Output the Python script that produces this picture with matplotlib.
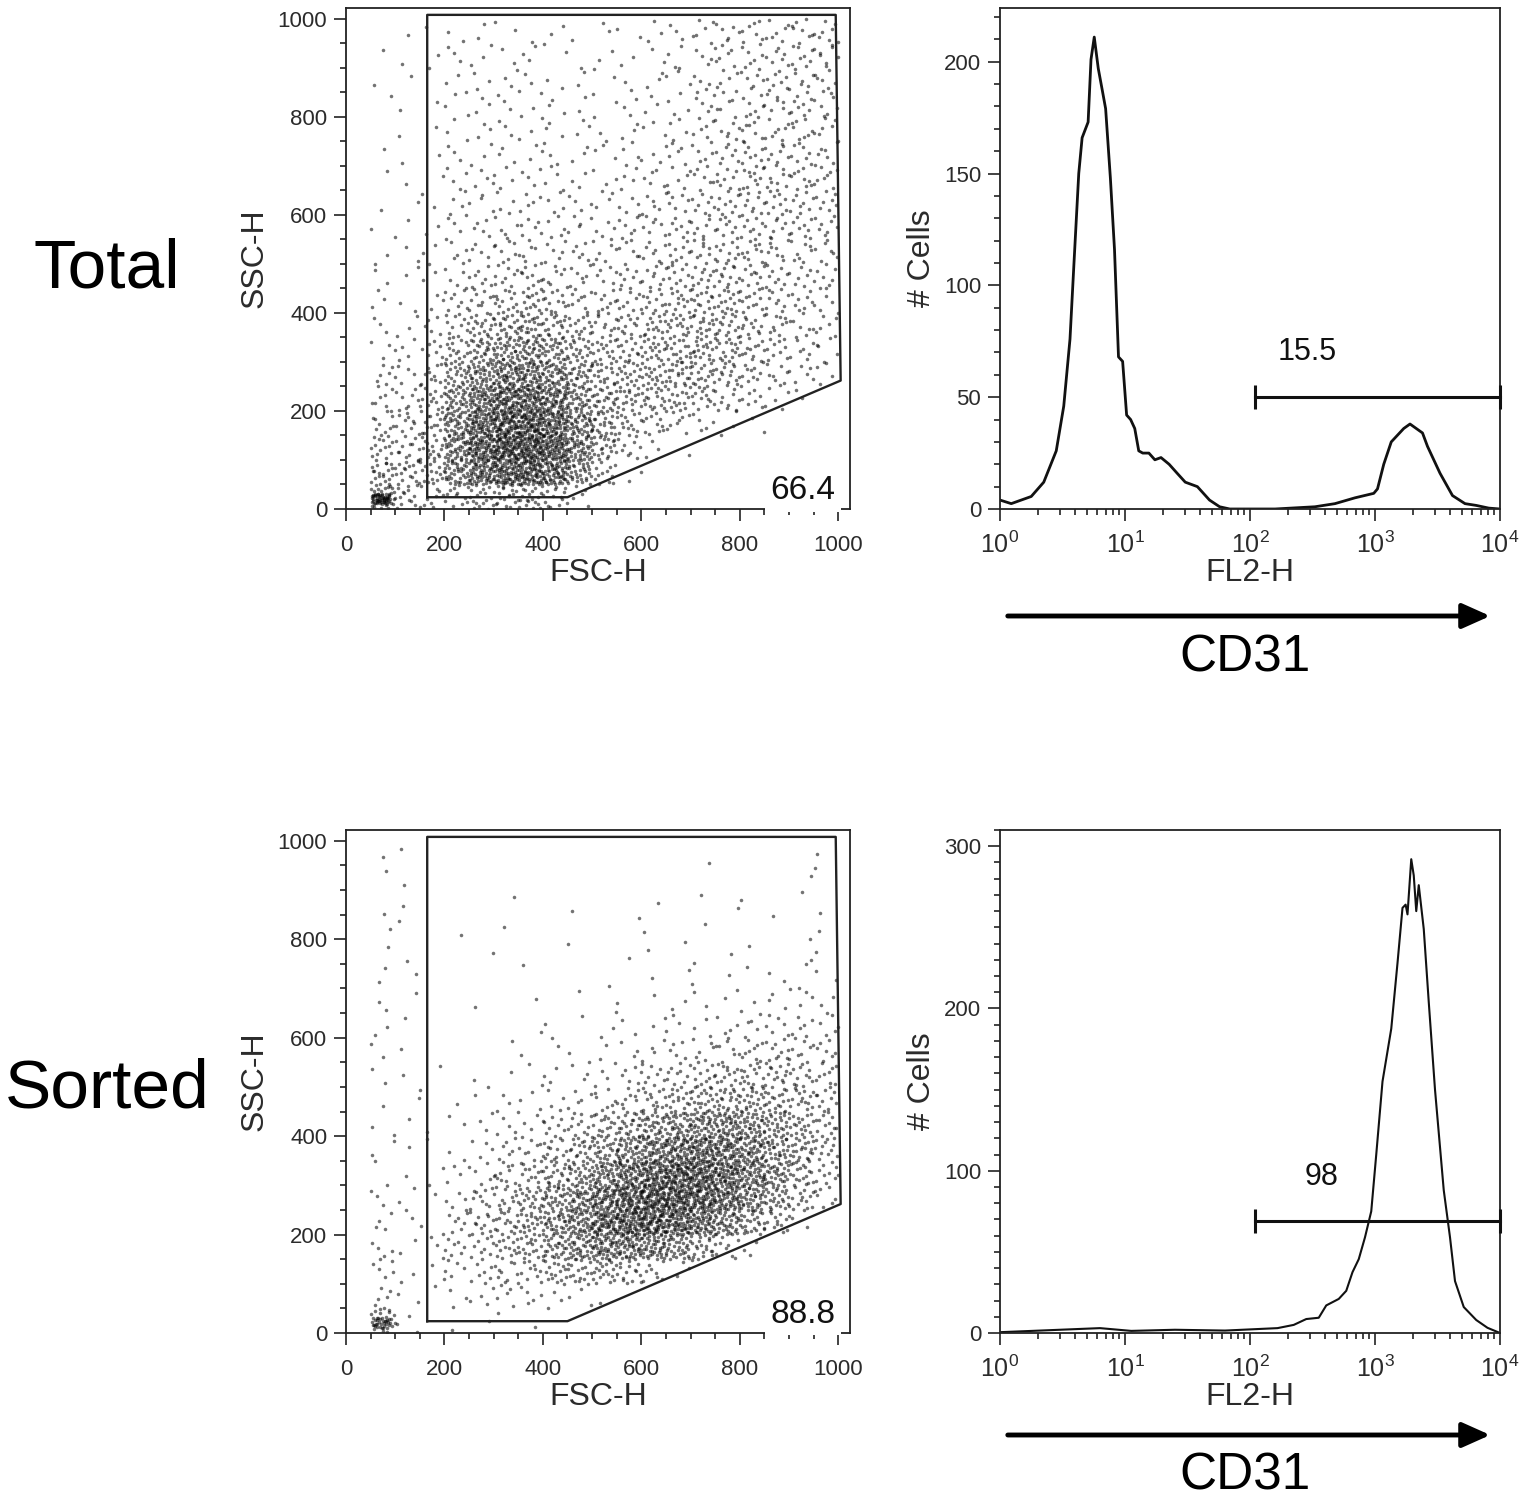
import numpy as np
import matplotlib
matplotlib.use("Agg")
import matplotlib.pyplot as plt
from matplotlib.ticker import MultipleLocator, LogLocator, NullFormatter

plt.rcParams['font.family'] = ['Liberation Sans', 'DejaVu Sans']
plt.rcParams['mathtext.fontset'] = 'custom'
plt.rcParams['mathtext.rm'] = 'Liberation Sans'

# ---- scatter data: cell counts on a 50x50 grid (FSC columns 0..1000, SSC rows top -> bottom)
bin_width = 50
total_counts = [
    [0, 0, 1, 1, 2, 2, 2, 1, 2, 1, 2, 2, 3, 3, 6, 6, 7, 7, 8, 8],
    [0, 1, 1, 1, 3, 3, 2, 3, 2, 1, 2, 2, 2, 3, 5, 6, 7, 7, 8, 8],
    [0, 1, 1, 1, 3, 3, 3, 3, 2, 2, 2, 2, 3, 4, 5, 6, 7, 8, 8, 7],
    [0, 1, 1, 1, 3, 3, 3, 3, 3, 2, 2, 3, 3, 4, 5, 6, 7, 8, 8, 7],
    [0, 0, 1, 1, 3, 3, 3, 3, 3, 3, 3, 3, 3, 4, 6, 7, 8, 8, 8, 7],
    [0, 1, 1, 1, 3, 3, 3, 3, 3, 3, 3, 4, 4, 5, 6, 8, 9, 9, 8, 7],
    [0, 1, 1, 1, 4, 4, 4, 4, 4, 3, 3, 4, 5, 6, 7, 9, 10, 10, 9, 8],
    [0, 1, 1, 2, 4, 4, 4, 5, 4, 4, 4, 5, 6, 7, 8, 9, 10, 10, 9, 8],
    [0, 2, 1, 2, 5, 5, 5, 6, 5, 5, 5, 6, 7, 8, 9, 10, 10, 9, 9, 8],
    [0, 2, 2, 2, 5, 6, 7, 7, 6, 6, 6, 7, 8, 9, 10, 11, 10, 9, 8, 7],
    [0, 2, 2, 3, 6, 7, 9, 10, 8, 7, 7, 8, 9, 11, 12, 12, 11, 9, 8, 7],
    [0, 3, 2, 3, 8, 11, 14, 15, 12, 10, 9, 10, 12, 13, 15, 15, 12, 10, 8, 6],
    [0, 3, 3, 5, 12, 18, 22, 24, 19, 14, 12, 13, 16, 17, 18, 16, 13, 10, 8, 6],
    [0, 4, 4, 7, 17, 26, 34, 36, 29, 21, 15, 15, 18, 19, 19, 17, 13, 10, 7, 5],
    [0, 6, 6, 10, 26, 40, 50, 50, 41, 28, 19, 18, 20, 20, 18, 15, 11, 8, 6, 4],
    [0, 8, 8, 13, 35, 55, 70, 70, 56, 34, 22, 19, 18, 16, 14, 10, 7, 5, 2, 0],
    [0, 10, 10, 16, 42, 68, 82, 85, 70, 42, 24, 15, 11, 8, 5, 3, 2, 0, 0, 0],
    [0, 14, 12, 17, 45, 75, 90, 92, 78, 46, 22, 9, 3, 1, 0, 0, 0, 0, 0, 0],
    [0, 22, 16, 18, 40, 62, 76, 78, 64, 34, 12, 2, 0, 0, 0, 0, 0, 0, 0, 0],
    [0, 30, 15, 9, 12, 17, 20, 20, 14, 5, 0, 0, 0, 0, 0, 0, 0, 0, 0, 0],
]
sorted_counts = [
    [0, 1, 1, 0, 0, 0, 0, 0, 0, 0, 0, 0, 0, 0, 1, 0, 0, 0, 0, 1],
    [0, 1, 1, 0, 0, 0, 0, 0, 0, 0, 0, 0, 0, 0, 0, 0, 0, 0, 1, 1],
    [0, 1, 1, 0, 0, 0, 1, 0, 0, 1, 0, 0, 1, 0, 1, 1, 1, 0, 1, 1],
    [0, 1, 1, 0, 1, 0, 1, 0, 0, 0, 0, 1, 1, 0, 1, 0, 0, 1, 1, 1],
    [0, 1, 1, 0, 0, 1, 0, 0, 0, 1, 0, 1, 1, 1, 1, 1, 1, 0, 1, 1],
    [0, 2, 1, 0, 0, 0, 0, 1, 0, 0, 1, 0, 1, 1, 1, 1, 1, 2, 2, 2],
    [0, 2, 1, 0, 0, 1, 0, 1, 0, 1, 1, 1, 1, 2, 2, 2, 2, 3, 4, 3],
    [0, 2, 1, 0, 0, 0, 0, 1, 1, 1, 2, 2, 2, 3, 3, 4, 5, 6, 6, 5],
    [0, 2, 1, 0, 0, 0, 1, 1, 2, 2, 2, 3, 4, 5, 6, 8, 9, 10, 9, 7],
    [0, 2, 1, 1, 0, 1, 1, 2, 3, 3, 4, 6, 8, 10, 12, 14, 15, 14, 12, 9],
    [0, 1, 1, 1, 1, 2, 3, 3, 4, 5, 7, 10, 14, 17, 20, 22, 22, 18, 15, 11],
    [0, 2, 1, 1, 2, 3, 4, 5, 8, 12, 17, 22, 30, 35, 40, 42, 36, 28, 20, 12],
    [0, 2, 1, 1, 2, 4, 6, 9, 13, 19, 27, 38, 48, 56, 60, 56, 45, 32, 22, 12],
    [0, 2, 1, 1, 3, 6, 10, 14, 20, 29, 42, 56, 70, 78, 76, 66, 50, 34, 20, 10],
    [0, 3, 2, 2, 5, 10, 14, 20, 30, 42, 58, 74, 84, 82, 74, 60, 42, 26, 14, 7],
    [0, 4, 2, 2, 7, 12, 16, 23, 33, 46, 66, 76, 78, 70, 56, 40, 25, 14, 3, 0],
    [0, 5, 2, 3, 7, 11, 14, 19, 28, 38, 48, 50, 45, 34, 22, 8, 3, 0, 0, 0],
    [0, 5, 2, 2, 5, 7, 9, 12, 15, 18, 20, 15, 8, 3, 1, 0, 0, 0, 0, 0],
    [0, 6, 2, 1, 3, 4, 5, 5, 4, 3, 1, 0, 0, 0, 0, 0, 0, 0, 0, 0],
    [0, 20, 3, 0, 1, 1, 1, 1, 0, 0, 0, 0, 0, 0, 0, 0, 0, 0, 0, 0],
]
# dense debris blob in the lower-left corner (FSC, SSC, count), both samples
blob_fsc = [52, 90]
blob_ssc = [10, 32]
blob_counts = [45, 25]

# gate polygon (FSC, SSC) and gate percentages
gate_fsc = [165, 165, 995, 1005, 450, 165]
gate_ssc = [24, 1008, 1008, 262, 24, 24]
scatter_pcts = ["66.4", "88.8"]

# ---- histogram data: log10(FL2-H) vs # cells
total_log = [0.0, 0.09, 0.25, 0.35, 0.45, 0.51, 0.56, 0.59, 0.63, 0.657, 0.705, 0.728,
             0.754, 0.786, 0.819, 0.845, 0.883, 0.916, 0.948, 0.981, 1.013, 1.045,
             1.078, 1.11, 1.142, 1.191, 1.239, 1.288, 1.353, 1.417, 1.482, 1.579,
             1.676, 1.757, 1.838, 2.2, 2.52, 2.68, 2.84, 2.99, 3.02, 3.07, 3.13,
             3.23, 3.28, 3.33, 3.38, 3.42, 3.52, 3.62, 3.72, 3.81, 3.91, 4.0]
total_cells = [4, 2.4, 5.6, 12, 26, 46, 76, 108, 150, 166, 173, 201,
               211, 197, 187, 179, 148, 116, 68, 66, 42, 40,
               36, 26, 25, 25, 22, 23, 20, 16, 12, 10,
               4, 1, 0, 0, 1, 2.4, 5, 7, 9, 20, 30,
               36, 38, 36, 34, 28, 16, 6, 2.4, 1.6, 0.4, 0]
sorted_log = [0.0, 0.48, 0.8, 1.05, 1.4, 1.8, 2.22, 2.35, 2.45, 2.55, 2.61, 2.71,
              2.77, 2.82, 2.87, 2.92, 2.97, 3.01, 3.06, 3.13, 3.18, 3.22, 3.245,
              3.26, 3.29, 3.31, 3.33, 3.35, 3.39, 3.43, 3.48, 3.55, 3.60, 3.64,
              3.71, 3.81, 3.90, 4.0]
sorted_cells = [0.5, 2, 3, 1.3, 2, 1.5, 3, 5, 8.6, 9.4, 17, 21,
                26, 37.5, 45.5, 59, 75, 110, 155, 187.5, 228, 262, 264,
                258, 292, 282, 260, 276, 249, 204, 150, 88, 59, 32,
                16, 8, 3.2, 0]
hist_gate_start = 110
hist_gate_level = [50, 69]
hist_pcts = ["15.5", "98"]
row_names = ["Total", "Sorted"]


def halton(i, b):
    f, r = 1.0, 0.0
    while i > 0:
        f /= b
        r += f * (i % b)
        i //= b
    return r


def cells_to_points(counts):
    xs, ys = [], []
    idx = 0
    nrows = len(counts)
    for r, row in enumerate(counts):
        y0 = (nrows - 1 - r) * bin_width
        for c, n in enumerate(row):
            x0 = c * bin_width
            for k in range(n):
                idx += 1
                xs.append(x0 + bin_width * halton(idx, 2))
                ys.append(y0 + bin_width * halton(idx, 3))
    return np.array(xs), np.array(ys)


def blob_points(n):
    xs = [blob_fsc[0] + (blob_fsc[1] - blob_fsc[0]) * halton(k + 7, 2) for k in range(n)]
    ys = [blob_ssc[0] + (blob_ssc[1] - blob_ssc[0]) * halton(k + 7, 3) for k in range(n)]
    return np.array(xs), np.array(ys)


W, H = 1524, 1502
fig = plt.figure(figsize=(W / 100, H / 100), dpi=100)


def px_axes(l, t, r, b):
    return fig.add_axes([l / W, 1 - b / H, (r - l) / W, (b - t) / H])


tick_col = '#2b2b2b'


def style_axes(ax):
    for s in ax.spines.values():
        s.set_color('#222222')
        s.set_linewidth(1.3)
    ax.tick_params(which='both', direction='out', colors='#222222',
                   labelcolor=tick_col, labelsize=16, width=1.2)
    ax.tick_params(which='major', length=8.5)
    ax.tick_params(which='minor', length=4.5)


scatter_axes = [px_axes(346, 8, 850, 509), px_axes(346, 830, 850, 1333)]
hist_axes = [px_axes(1000, 8, 1500, 509), px_axes(1000, 830, 1500, 1333)]

for ax, counts, pct, nb in zip(scatter_axes, [total_counts, sorted_counts],
                               scatter_pcts, blob_counts):
    xs, ys = cells_to_points(counts)
    bx, by = blob_points(nb)
    ax.scatter(np.r_[xs, bx], np.r_[ys, by], s=6.5, c='k', alpha=0.55,
               linewidths=0, zorder=1)
    ax.plot(gate_fsc, gate_ssc, color='#222222', lw=1.7, zorder=3)
    ax.set_xlim(0, 1024)
    ax.set_ylim(0, 1022)
    ax.xaxis.set_major_locator(MultipleLocator(200))
    ax.yaxis.set_major_locator(MultipleLocator(200))
    ax.xaxis.set_minor_locator(MultipleLocator(50))
    ax.yaxis.set_minor_locator(MultipleLocator(50))
    style_axes(ax)
    ax.tick_params(axis='x', pad=10)
    ax.tick_params(axis='y', pad=5)
    ax.set_xlabel("FSC-H", fontsize=23, color=tick_col, labelpad=2)
    ax.set_ylabel("SSC-H", fontsize=23, color=tick_col, labelpad=6)
    ax.text(929, 38, pct, fontsize=24, color='#111111', ha='center', va='center',
            zorder=10, clip_on=False,
            bbox=dict(facecolor='white', edgecolor='none', pad=4))

for i, (ax, lx, cy) in enumerate(zip(hist_axes, [total_log, sorted_log],
                                     [total_cells, sorted_cells])):
    ax.plot(10 ** np.array(lx), cy, color='#111111', lw=2.0 if i == 0 else 1.5)
    ax.set_xscale('log')
    ax.set_xlim(1, 1e4)
    if i == 0:
        ax.set_ylim(0, 224)
        ax.yaxis.set_major_locator(MultipleLocator(50))
    else:
        ax.set_ylim(0, 310)
        ax.yaxis.set_major_locator(MultipleLocator(100))
    ax.yaxis.set_minor_locator(MultipleLocator(10))
    ax.xaxis.set_major_locator(LogLocator(base=10, numticks=10))
    ax.xaxis.set_minor_locator(LogLocator(base=10, subs=np.arange(2, 10), numticks=50))
    ax.xaxis.set_minor_formatter(NullFormatter())
    style_axes(ax)
    ax.tick_params(axis='x', pad=8, labelsize=18)
    ax.tick_params(axis='y', pad=5)
    ax.set_xlabel("FL2-H", fontsize=23, color=tick_col, labelpad=0)
    ax.set_ylabel("# Cells", fontsize=23, color=tick_col, labelpad=5)
    lvl = hist_gate_level[i]
    ax.plot([hist_gate_start, 1e4], [lvl, lvl], color='#111111', lw=2.2,
            marker='|', markersize=17, markeredgewidth=2.2, clip_on=False, zorder=5)
    ax.text(hist_gate_start * 2.6 if i == 0 else hist_gate_start * 3.4,
            lvl + (20 if i == 0 else 27), hist_pcts[i], fontsize=22,
            color='#111111', ha='center', va='center')

# CD31 arrows under histograms
for y_arrow, y_text in [(616, 658), (1435, 1476)]:
    fig.add_artist(matplotlib.patches.FancyArrowPatch(
        (1005, H - y_arrow), (1493, H - y_arrow), transform=None,
        arrowstyle='-|>,head_length=0.85,head_width=0.38', mutation_scale=20,
        lw=3.5, color='k'))
    fig.text(1245 / W, 1 - y_text / H, "CD31", fontsize=37, ha='center', va='center')

for name, y in zip(row_names, [270, 1090]):
    fig.text(107 / W, 1 - y / H, name, fontsize=50, ha='center', va='center')

fig.savefig("out.png", dpi=100)
